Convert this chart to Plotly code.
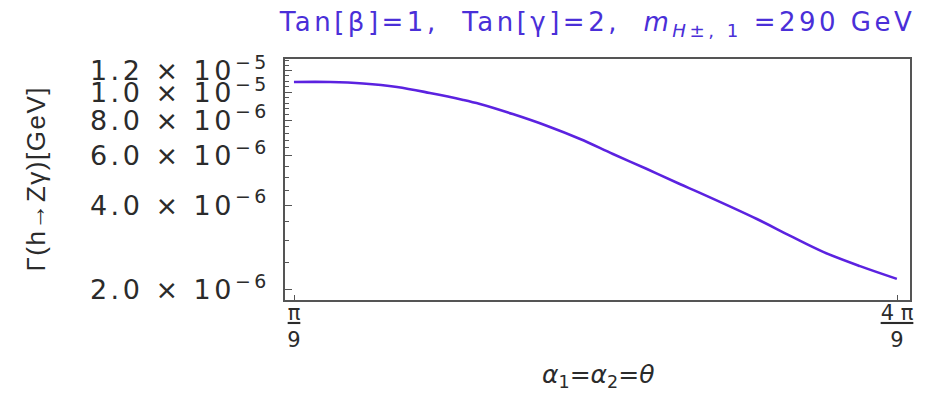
import plotly.graph_objects as go

# mixing angle theta (rad) and partial width Gamma(h -> Z gamma) in GeV
theta = [0.349, 0.412, 0.469, 0.528, 0.585, 0.643, 0.672, 0.729, 0.789, 0.846,
         0.903, 0.962, 1.019, 1.054, 1.153, 1.211, 1.268, 1.332, 1.396]
gamma_width = [1.093e-5, 1.093e-5, 1.080e-5, 1.049e-5, 9.99e-6, 9.44e-6, 9.13e-6,
               8.41e-6, 7.63e-6, 6.86e-6, 6.07e-6, 5.37e-6, 4.75e-6, 4.42e-6,
               3.57e-6, 3.11e-6, 2.73e-6, 2.43e-6, 2.19e-6]

# axis ticks
y_tick_vals = [2e-6, 4e-6, 6e-6, 8e-6, 1e-5, 1.2e-5]
y_tick_text = ["2.0 × 10<sup>−6</sup>", "4.0 × 10<sup>−6</sup>", "6.0 × 10<sup>−6</sup>",
               "8.0 × 10<sup>−6</sup>", "1.0 × 10<sup>−5</sup>", "1.2 × 10<sup>−5</sup>"]
y_minor_vals = [2.5e-6, 3e-6, 3.5e-6, 4.5e-6, 5e-6, 5.5e-6, 6.4e-6, 6.8e-6, 7.2e-6,
                7.6e-6, 8.4e-6, 8.8e-6, 9.2e-6, 9.6e-6, 1.05e-5, 1.1e-5, 1.15e-5,
                1.25e-5, 1.3e-5]
x_tick_vals = [0.349066, 1.396263]
x_tick_text = ["π", "4 π"]
x_tick_denom = ["9", "9"]

title_text = "Tan[β]=1,  Tan[γ]=2,  <i>m</i><sub><i>H</i>±, 1</sub> =290 GeV"

LINE = "#5b22e0"
TITLE = "#4a2fd8"
FRAME = "#555555"
TEXT = "#2b2b2b"


def spaced(s, px):
    return f'<span style="letter-spacing:{px}px">{s}</span>'


fig = go.Figure()
fig.add_trace(go.Scatter(x=theta, y=gamma_width, mode="lines",
                         line=dict(color=LINE, width=2.6, shape="spline"),
                         showlegend=False))

fig.update_layout(
    width=937, height=395,
    margin=dict(l=285, r=27, t=59, b=95),
    paper_bgcolor="white", plot_bgcolor="white",
    title=dict(text=spaced(title_text, 3.5),
               x=0.5, xref="paper", xanchor="center",
               y=0.944, yref="container", yanchor="middle",
               font=dict(family="DejaVu Sans", size=26, color=TITLE)),
)

fig.update_xaxes(
    range=[0.33344, 1.41884], showgrid=False, zeroline=False,
    showline=True, mirror=True, linecolor=FRAME, linewidth=1.5,
    ticks="inside", ticklen=5, tickcolor=FRAME, tickwidth=1,
    tickmode="array", tickvals=x_tick_vals,
    ticktext=[f'<span style="text-decoration:underline">{n}</span><br>{d}'
              for n, d in zip(x_tick_text, x_tick_denom)],
    tickfont=dict(family="DejaVu Sans", size=21, color=TEXT),
    ticklabelstandoff=-7,
)

fig.update_yaxes(
    type="log", range=[-5.7345, -4.8799], showgrid=False, zeroline=False,
    showline=True, mirror=True, linecolor=FRAME, linewidth=1.5,
    ticks="inside", ticklen=7, tickcolor=FRAME, tickwidth=1,
    tickmode="array", tickvals=y_tick_vals,
    ticktext=[spaced(t, 3.5) for t in y_tick_text],
    tickfont=dict(family="DejaVu Sans", size=27, color=TEXT),
    ticklabelstandoff=8,
    minor=dict(tickmode="array", tickvals=y_minor_vals, ticks="inside",
               ticklen=4, tickcolor=FRAME, tickwidth=1, showgrid=False),
)

# axis titles
fig.add_annotation(text=spaced("Γ(h→Zγ)[GeV]", 1.5),
                   xref="paper", yref="paper", x=-0.40, y=0.50,
                   xanchor="center", yanchor="middle", textangle=-90,
                   showarrow=False,
                   font=dict(family="Liberation Sans", size=26, color=TEXT))
fig.add_annotation(text="<i>α</i><sub>1</sub>=<i>α</i><sub>2</sub>=<i>θ</i>",
                   xref="paper", yref="paper", x=0.5, y=-0.315,
                   xanchor="center", yanchor="middle", showarrow=False,
                   font=dict(family="DejaVu Sans", size=25, color=TEXT))

fig.write_html("out.html")
